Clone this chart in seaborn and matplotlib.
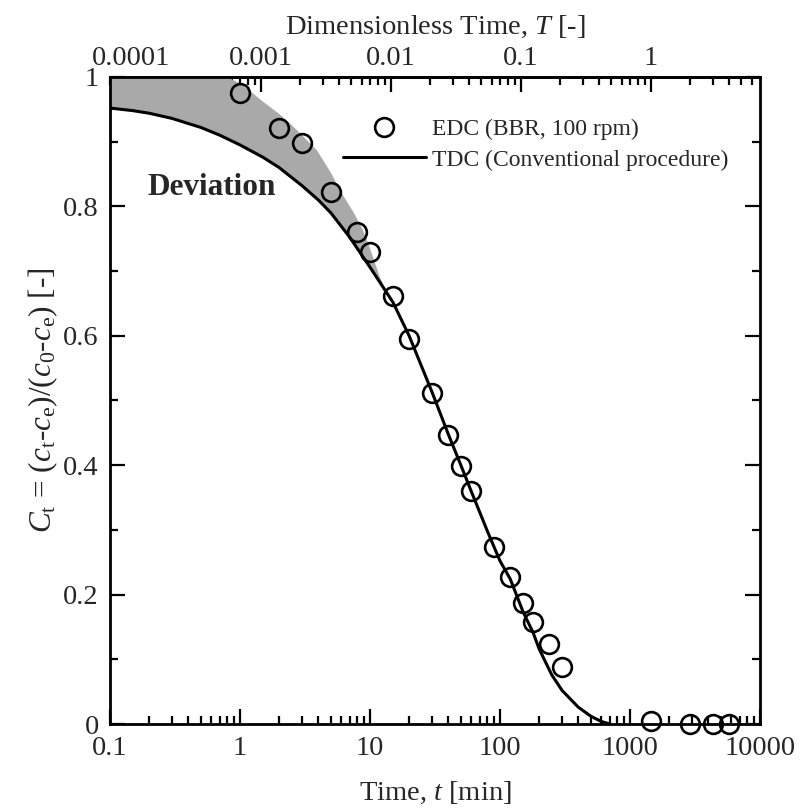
import numpy as np
import pandas as pd
import matplotlib
matplotlib.use("Agg")
import matplotlib.pyplot as plt
import seaborn as sns
from matplotlib.ticker import LogLocator, MultipleLocator, NullFormatter

# ---------------- data ----------------
t_edc = [1, 2, 3, 5, 8, 10, 15, 20, 30, 40, 50, 60, 90, 120, 150, 180, 240, 300,
         1440, 2880, 4320, 5760]
c_edc = [0.976, 0.921, 0.898, 0.822, 0.760, 0.730, 0.662, 0.595, 0.512, 0.447,
         0.399, 0.360, 0.274, 0.227, 0.187, 0.158, 0.124, 0.088,
         0.005, 0.0, 0.0, 0.0]

t_tdc = [0.1, 0.15, 0.2, 0.3, 0.5, 0.7, 1, 1.5, 2, 3, 4, 5, 7, 10, 15, 20, 30,
         40, 50, 60, 80, 100, 120, 150, 180, 200, 250, 300, 400, 500, 600, 700]
c_tdc = [0.952, 0.948, 0.944, 0.936, 0.922, 0.910, 0.895, 0.876, 0.860, 0.832,
         0.810, 0.790, 0.752, 0.706, 0.652, 0.600, 0.513, 0.448, 0.400, 0.360,
         0.298, 0.252, 0.224, 0.174, 0.141, 0.116, 0.076, 0.052, 0.026, 0.012,
         0.004, 0.0]

# upper edge of the grey "Deviation" band
t_dev = [0.1, 0.8, 1.0, 1.2, 1.5, 2.0, 2.4, 3.0, 3.9, 5.0, 6.0, 7.5, 8.8, 10,
         11.9, 13.5, 15]
c_dev = [1.0, 1.0, 0.99, 0.978, 0.962, 0.943, 0.929, 0.910, 0.887, 0.852,
         0.822, 0.790, 0.764, 0.735, 0.691, 0.667, 0.652]

x_ticks = [0.1, 1, 10, 100, 1000, 10000]
x_ticklabels = ["0.1", "1", "10", "100", "1000", "10000"]
y_ticks = [0, 0.2, 0.4, 0.6, 0.8, 1.0]
y_ticklabels = ["0", "0.2", "0.4", "0.6", "0.8", "1"]
T_ticks = [0.0001, 0.001, 0.01, 0.1, 1]
T_ticklabels = ["0.0001", "0.001", "0.01", "0.1", "1"]
T_per_min = 1.0 / 1440.0

# ---------------- style ----------------
sns.set_theme(style="ticks")
plt.rcParams["font.family"] = ["Liberation Serif", "DejaVu Serif"]
plt.rcParams["mathtext.fontset"] = "custom"
plt.rcParams["mathtext.rm"] = "Liberation Serif"
plt.rcParams["mathtext.it"] = "Liberation Serif:italic"
plt.rcParams["mathtext.bf"] = "Liberation Serif:bold"
plt.rcParams["axes.linewidth"] = 2.0

fig = plt.figure(figsize=(8.03, 8.09), dpi=100)
ax = fig.add_axes([110 / 803, 1 - 724 / 809, 650 / 803, 647 / 809])

df_tdc = pd.DataFrame({"t": t_tdc, "C": c_tdc})
df_edc = pd.DataFrame({"t": t_edc, "C": c_edc})

# grey deviation band (upper edge, then TDC curve back)
low = [(t, c) for t, c in zip(t_tdc, c_tdc) if t <= 15][::-1]
ax.fill(t_dev + [p[0] for p in low], c_dev + [p[1] for p in low],
        color="#a9a9a9", lw=0, zorder=1)

sns.lineplot(data=df_tdc, x="t", y="C", ax=ax, color="black", lw=2.2,
             label="TDC (Conventional procedure)", zorder=3, sort=False)
sns.lineplot(data=df_edc, x="t", y="C", ax=ax, marker="o", linestyle="",
             markerfacecolor="none", markeredgecolor="black", markersize=13.5,
             markeredgewidth=1.9, color="black", label="EDC (BBR, 100 rpm)",
             zorder=4, clip_on=False, sort=False)

ax.set_xscale("log")
ax.set_xlim(0.1, 10000)
ax.set_ylim(0, 1)

ax.set_xticks(x_ticks)
ax.set_xticklabels(x_ticklabels)
ax.xaxis.set_minor_locator(LogLocator(base=10, subs=np.arange(2, 10)))
ax.xaxis.set_minor_formatter(NullFormatter())
ax.set_yticks(y_ticks)
ax.set_yticklabels(y_ticklabels)
ax.yaxis.set_minor_locator(MultipleLocator(0.1))

ax.tick_params(which="both", direction="in", top=False, right=True,
               width=1.6, color="black", labelsize=20.5)
ax.tick_params(which="major", length=11)
ax.tick_params(which="minor", length=5.5)
ax.tick_params(axis="x", which="major", pad=8.5)
ax.tick_params(axis="y", which="major", pad=8)

ax.set_xlabel("Time, $t$ [min]", fontsize=20.5, labelpad=14)
ax.set_ylabel("$C_{\\rm t}$ = ($c_{\\rm t}$-$c_{\\rm e}$)/($c_{\\rm 0}$-$c_{\\rm e}$) [-]",
              fontsize=22.5, labelpad=2)

# top dimensionless-time axis
sec = ax.secondary_xaxis("top", functions=(lambda t: t * T_per_min,
                                           lambda T: T / T_per_min))
sec.set_xticks(T_ticks)
sec.set_xticklabels(T_ticklabels)
sec.xaxis.set_minor_locator(LogLocator(base=10, subs=np.arange(2, 10)))
sec.xaxis.set_minor_formatter(NullFormatter())
sec.tick_params(which="both", direction="in", width=1.6, color="black",
                labelsize=20.5)
sec.tick_params(which="major", length=11, pad=4)
sec.tick_params(which="minor", length=5.5)
sec.set_xlabel("Dimensionless Time, $T$ [-]", fontsize=20.5, labelpad=9)
sec.spines["top"].set_linewidth(2.0)

for s in ax.spines.values():
    s.set_color("black")
    s.set_linewidth(2.0)

ax.text(0.196, 0.829, "Deviation", fontsize=22.5, fontweight="bold",
        ha="left", va="center", zorder=5)

h, l = ax.get_legend_handles_labels()
order = [l.index("EDC (BBR, 100 rpm)"), l.index("TDC (Conventional procedure)")]
ax.legend([h[i] for i in order], [l[i] for i in order],
          loc="center left", bbox_to_anchor=(343 / 803, 1 - 144.5 / 809),
          bbox_transform=fig.transFigure, frameon=False, fontsize=17,
          handlelength=3.5, handletextpad=0.25, labelspacing=0.38,
          borderpad=0, borderaxespad=0)

fig.savefig("out.png", dpi=100)
